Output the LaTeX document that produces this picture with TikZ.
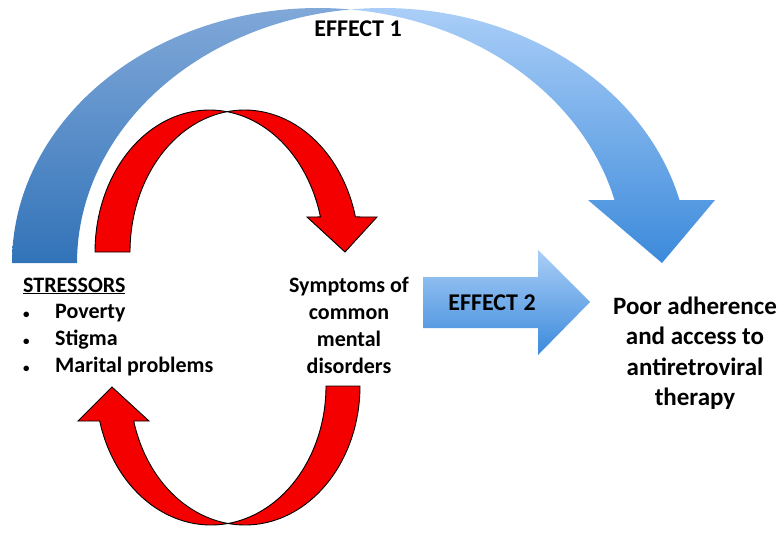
\documentclass[tikz,border=0pt]{standalone}
\usepackage{fontspec}
\setmainfont{Carlito}
\definecolor{backtop}{HTML}{80A8D9}
\definecolor{backbot}{HTML}{3273B8}
\definecolor{fronttop}{HTML}{AACEF7}
\definecolor{frontbot}{HTML}{3C8ADB}
\definecolor{arrred}{HTML}{F50000}
\newcommand{\smallbul}{\makebox[34pt][l]{\hspace{2pt}\fontsize{13}{13}\selectfont\textbullet}}
\tikzset{
  lbl/.style={font=\bfseries\fontsize{22}{27}\selectfont, align=center, inner sep=0pt},
  biglbl/.style={font=\bfseries\fontsize{25}{30.5}\selectfont, align=center, inner sep=0pt},
  efflbl/.style={font=\bfseries\fontsize{24}{28}\selectfont, inner sep=0pt},
  redband/.style={fill=arrred, draw=black, line width=0.9pt},
  blueband/.style={top color=#1top, bottom color=#1bot}
}
\begin{document}
\begin{tikzpicture}[x=1pt,y=-1pt]
\useasboundingbox (0,0) rectangle (784,533);

% effect 1
\shade[blueband=back] plot[domain=180:84, samples=60] ({318+306*cos(\x)},{263-255*sin(\x)})
  -- plot[domain=96.2:180, samples=60] ({383+306*cos(\x)},{263-255*sin(\x)}) -- cycle;
\shade[blueband=front] plot[domain=96.2:14.3, samples=60] ({383+306*cos(\x)},{263-255*sin(\x)})
  -- (715,200) -- (662,263) -- (588,200)
  -- plot[domain=14.3:84, samples=60] ({318+306*cos(\x)},{263-255*sin(\x)}) -- cycle;

% stressors -> symptoms
\draw[redband] plot[domain=180:81.2, samples=50] ({209.5+114.5*cos(\x)},{252-142*sin(\x)})
  -- plot[domain=98.8:180, samples=50] ({244.5+114.5*cos(\x)},{252-142*sin(\x)}) -- cycle;
\draw[redband] plot[domain=98.8:14.3, samples=50] ({244.5+114.5*cos(\x)},{252-142*sin(\x)})
  -- (377,217) -- (345,252) -- (307,217)
  -- plot[domain=14.3:81.2, samples=50] ({209.5+114.5*cos(\x)},{252-142*sin(\x)}) -- cycle;

% symptoms -> stressors
\draw[redband] plot[domain=360:261.5, samples=50] ({245+115*cos(\x)},{386-139*sin(\x)})
  -- plot[domain=278.5:360, samples=50] ({211+115*cos(\x)},{386-139*sin(\x)}) -- cycle;
\draw[redband] plot[domain=278.5:194.6, samples=50] ({211+115*cos(\x)},{386-139*sin(\x)})
  -- (78,421) -- (112,387) -- (149,421)
  -- plot[domain=194.6:261.5, samples=50] ({245+115*cos(\x)},{386-139*sin(\x)}) -- cycle;

% effect 2
\shade[blueband=front] (423,277) -- (538,277) -- (538,250) -- (590,302)
  -- (538,355) -- (538,328) -- (423,328) -- cycle;

\node[efflbl] (effone) at (358,29) {EFFECT 1};
\node[efflbl] (efftwo) at (492,303) {EFFECT 2};

\node[lbl, anchor=west] (stress) at (23,286) {\underline{STRESSORS}};
\node[lbl, anchor=north west, align=left] (list) at (21,304)
  {\smallbul Poverty\\ \smallbul Stigma\\ \smallbul Marital problems};
\node[lbl] (sympt) at (349,325) {Symptoms of\\common\\mental\\disorders};
\node[biglbl] (poor) at (695,353) {Poor adherence\\and access to\\antiretroviral\\therapy};
\end{tikzpicture}
\end{document}
